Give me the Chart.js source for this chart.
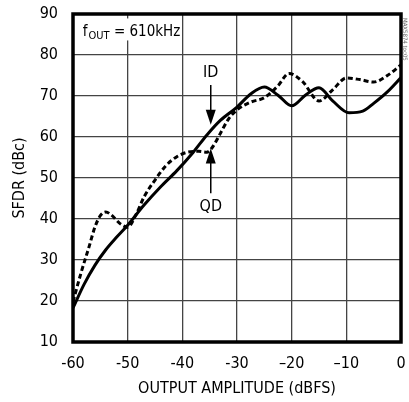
<!DOCTYPE html>
<html>
<head>
<meta charset="utf-8">
<script src="https://cdn.jsdelivr.net/npm/chart.js@4"></script>
<style>
html,body{margin:0;padding:0;background:#fff;}
#wrap{width:409px;height:402px;}
</style>
</head>
<body>
<div id="wrap"><canvas id="c" width="409" height="402"></canvas></div>
<script>
const FONT = "'Liberation Sans Narrow','DejaVu Sans Condensed','Arial Narrow',sans-serif";

const xTicks = [-60, -50, -40, -30, -20, -10, 0];
const xTickLabels = ['-60', '-50', '-40', '-30', '\u201320', '\u201310', '0'];
const yTicks = [10, 20, 30, 40, 50, 60, 70, 80, 90];

const idX = [-60, -58, -56, -54, -52, -50, -47, -44, -41, -38, -35.5, -33, -30, -27.5, -25, -22.5, -20, -17.5, -15, -12.5, -9.5, -7, -5, -2.5, 0];
const idY = [18.3, 24, 28.7, 32.5, 35.6, 38.5, 43.4, 47.8, 51.8, 56.3, 60.5, 64.1, 67.3, 70.5, 72.2, 70.2, 67.6, 70.2, 72, 68.8, 65.9, 66.3, 68.2, 71, 74.5];

const qdX = [-60, -58.5, -57, -56, -55, -54, -53, -51.5, -50, -48.5, -47, -45, -43, -41, -39, -37, -35.5, -34.5, -33, -31.5, -30, -27.5, -25, -22.5, -20.5, -18, -15, -12.5, -10, -7.5, -5, -2.5, 0];
const qdY = [19.8, 27, 33.5, 38, 40.8, 41.7, 41, 39, 38, 41, 45.4, 49.5, 53, 55.2, 56.3, 56.5, 56.3, 57.5, 61, 64.5, 66.6, 68.5, 69.6, 72.5, 75.5, 73.5, 68.8, 71.5, 74.4, 74, 73.4, 75, 77.6];

const toPts = (xs, ys) => xs.map((x, i) => ({x: x, y: ys[i]}));

const overlay = {
  id: 'overlay',
  beforeDatasetsDraw(chart) {
    const ctx = chart.ctx, xs = chart.scales.x, ys = chart.scales.y;
    const lx = xs.getPixelForValue(-58.2), ly = ys.getPixelForValue(85.5);
    ctx.save();
    ctx.fillStyle = '#fff';
    ctx.fillRect(lx - 3, ly - 14, 94, 22);
    ctx.fillStyle = '#000';
    ctx.textBaseline = 'alphabetic';
    ctx.font = '15px ' + FONT;
    ctx.fillText('f', lx, ly + 4);
    let w = ctx.measureText('f').width;
    ctx.font = '11px ' + FONT;
    ctx.fillText('OUT', lx + w + 1, ly + 7);
    w += ctx.measureText('OUT').width + 1;
    ctx.font = '15px ' + FONT;
    ctx.fillText(' = 610kHz', lx + w, ly + 4);
    ctx.restore();
  },
  afterDatasetsDraw(chart) {
    const ctx = chart.ctx, xs = chart.scales.x, ys = chart.scales.y, a = chart.chartArea;
    ctx.save();
    ctx.strokeStyle = '#000';
    ctx.lineWidth = 3.5;
    ctx.strokeRect(a.left, a.top, a.right - a.left, a.bottom - a.top);
    const ax = xs.getPixelForValue(-34.8);
    ctx.font = '16px ' + FONT;
    ctx.textAlign = 'center';
    ctx.textBaseline = 'middle';
    const idTy = ys.getPixelForValue(75.6);
    ctx.fillStyle = '#fff';
    ctx.fillRect(ax - 12, idTy - 10, 24, 20);
    ctx.fillStyle = '#000';
    ctx.fillText('ID', ax, idTy);
    ctx.lineWidth = 1.5;
    let y1 = ys.getPixelForValue(72.7), tip = ys.getPixelForValue(63.0);
    ctx.beginPath(); ctx.moveTo(ax, y1); ctx.lineTo(ax, tip - 12); ctx.stroke();
    ctx.beginPath(); ctx.moveTo(ax - 5, tip - 15); ctx.lineTo(ax + 5, tip - 15); ctx.lineTo(ax, tip); ctx.closePath(); ctx.fill();
    const qy = ys.getPixelForValue(43.0);
    ctx.fillStyle = '#fff';
    ctx.fillRect(ax - 14, qy - 10, 28, 20);
    ctx.fillStyle = '#000';
    ctx.fillText('QD', ax, qy);
    let qy1 = ys.getPixelForValue(46.3), qtip = ys.getPixelForValue(57.2);
    ctx.beginPath(); ctx.moveTo(ax, qy1); ctx.lineTo(ax, qtip + 12); ctx.stroke();
    ctx.beginPath(); ctx.moveTo(ax - 5, qtip + 15); ctx.lineTo(ax + 5, qtip + 15); ctx.lineTo(ax, qtip); ctx.closePath(); ctx.fill();
    ctx.translate(a.right + 4, a.top + 4);
    ctx.rotate(Math.PI / 2);
    ctx.font = '6px ' + FONT;
    ctx.fillStyle = '#666';
    ctx.textAlign = 'left';
    ctx.fillText('MAX5874 toc05', 0, 0);
    ctx.restore();
  }
};

new Chart(document.getElementById('c'), {
  type: 'scatter',
  data: {
    datasets: [
      {label: 'ID', data: toPts(idX, idY), showLine: true, borderColor: '#000', borderWidth: 3, pointRadius: 0, cubicInterpolationMode: 'monotone', fill: false},
      {label: 'QD', data: toPts(qdX, qdY), showLine: true, borderColor: '#000', borderWidth: 3, borderDash: [5, 3], pointRadius: 0, cubicInterpolationMode: 'monotone', fill: false}
    ]
  },
  options: {
    responsive: false,
    animation: false,
    devicePixelRatio: 1,
    layout: {padding: {top: 14, right: 8, left: 0, bottom: 0}},
    plugins: {legend: {display: false}, tooltip: {enabled: false}},
    scales: {
      x: {
        type: 'linear', min: -60, max: 0,
        afterBuildTicks(s) { s.ticks = xTicks.map(v => ({value: v})); },
        afterFit(s) { s.height = 60; s.paddingLeft = 0; s.paddingRight = 0; },
        grid: {color: '#444', lineWidth: 1.3, drawTicks: false},
        border: {display: false},
        ticks: {
          padding: 12, color: '#000', maxRotation: 0,
          font: {family: FONT, size: 16},
          callback: (v) => { const i = xTicks.indexOf(v); return i >= 0 ? xTickLabels[i] : ''; }
        },
        title: {display: true, text: 'OUTPUT AMPLITUDE (dBFS)', color: '#000', font: {family: FONT, size: 16}, padding: {top: 0, bottom: 4}}
      },
      y: {
        type: 'linear', min: 10, max: 90,
        afterBuildTicks(s) { s.ticks = yTicks.map(v => ({value: v})); },
        afterFit(s) { s.width = 73; s.paddingTop = 0; s.paddingBottom = 0; },
        grid: {color: '#444', lineWidth: 1.3, drawTicks: false},
        border: {display: false},
        ticks: {padding: 15, color: '#000', font: {family: FONT, size: 16}},
        title: {display: true, text: 'SFDR (dBc)', color: '#000', font: {family: FONT, size: 16}, padding: {top: 10, bottom: 0}}
      }
    }
  },
  plugins: [overlay]
});
</script>
</body>
</html>
